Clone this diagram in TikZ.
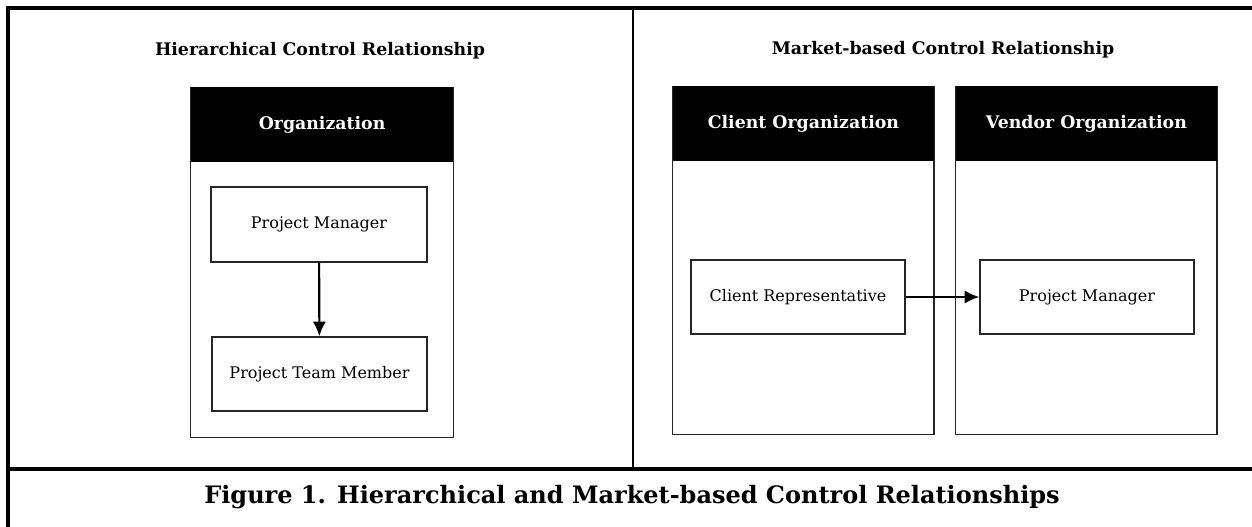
\documentclass[tikz,border=0pt]{standalone}
\usepackage{fontspec}
\setmainfont{DejaVu Serif}
\usepackage{tikz}
\usetikzlibrary{arrows.meta}

\begin{document}
\begin{tikzpicture}[x=0.75pt, y=-0.75pt,
    box/.style={draw=black!85, line width=1.1pt, fill=white, align=center, font=\fontsize{12}{14}\selectfont},
    orgbox/.style={draw=black!85, line width=1.1pt, minimum width=197pt, inner sep=0pt},
    head/.style={fill=black, text=white, minimum height=56pt, inner sep=0pt, font=\bfseries\fontsize{13}{15}\selectfont},
    title/.style={font=\bfseries\fontsize{13}{15}\selectfont},
    link/.style={line width=1.6pt, -{Latex[length=11pt, width=10pt]}}]
    \useasboundingbox (0,0) rectangle (1252,527);

    % frame
    \draw[line width=2.6pt] (8,527) -- (8,8) -- (1252,8);
    \draw[line width=2.6pt] (8,469) -- (1252,469);
    \draw[line width=0.9pt] (633,8) -- (633,469);

    % left side: one organization
    \node[title] (hier) at (320,51) {Hierarchical Control Relationship};
    \node[orgbox, minimum height=262.5pt, anchor=north west] (org) at (190,87) {};
    \node[head, minimum width=197pt, anchor=north] (orghead) at (org.north) {Organization};
    \node[box, minimum width=162pt, minimum height=56pt] (pm) at (319,224.5) {Project Manager};
    \node[box, minimum width=161pt, minimum height=55.5pt] (ptm) at (319.5,374) {Project Team Member};
    \draw[link] (pm) -- (ptm);

    % right side: client and vendor
    \node[title] (market) at (943,50) {Market-based Control Relationship};
    \node[orgbox, minimum width=196pt, minimum height=261pt, anchor=north west] (client) at (672,86) {};
    \node[head, minimum width=196pt, anchor=north] (clienthead) at (client.north) {Client Organization};
    \node[orgbox, minimum width=196pt, minimum height=261pt, anchor=north west] (vendor) at (955,86) {};
    \node[head, minimum width=196pt, anchor=north] (vendorhead) at (vendor.north) {Vendor Organization};
    \node[box, minimum width=160.5pt, minimum height=55.5pt] (crep) at (798,297) {Client Representative};
    \node[box, minimum width=160.5pt, minimum height=55.5pt] (vpm) at (1087,297) {Project Manager};
    \draw[link] (crep) -- (vpm);

    % caption
    \node[font=\bfseries\fontsize{18}{21}\selectfont] (caption) at (632,497) {Figure 1. Hierarchical and Market-based Control Relationships};
\end{tikzpicture}
\end{document}
